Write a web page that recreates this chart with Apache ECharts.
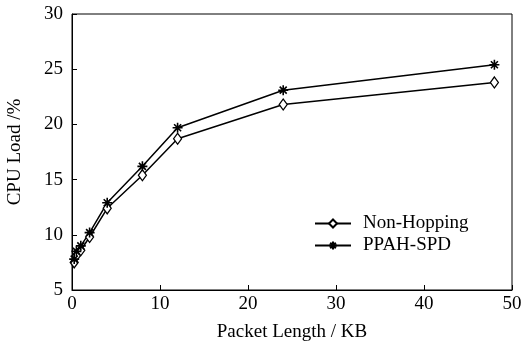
<!DOCTYPE html>
<html>
<head>
<meta charset="utf-8">
<script src="https://cdn.jsdelivr.net/npm/echarts@6/dist/echarts.min.js"></script>
<style>
  html, body { margin: 0; padding: 0; background: #fff; }
</style>
</head>
<body>
<div id="main" style="width:522px;height:350px"></div>
<script>
// packet length (KB) and CPU load (%)
var packetLength = [0.25, 0.5, 1, 2, 4, 8, 12, 24, 48];
var nonHopping = [7.5, 8.1, 8.6, 9.8, 12.4, 15.4, 18.7, 21.8, 23.8];
var ppahSpd = [7.8, 8.5, 9.0, 10.2, 12.9, 16.2, 19.7, 23.1, 25.4];
var seriesNames = ['Non-Hopping', 'PPAH-SPD'];

function pairs(xs, ys) {
    return xs.map(function (x, i) { return [x, ys[i]]; });
}

var starPath = 'path://M0 5 L10 5 M5 0 L5 10 M1.5 1.5 L8.5 8.5 M8.5 1.5 L1.5 8.5';
var font = '"Liberation Serif", "DejaVu Serif", serif';

var chartView = echarts.init(document.getElementById('main'));
chartView.setOption({
    backgroundColor: '#fff',
    animation: false,
    textStyle: { fontFamily: font, color: '#000' },
    grid: {
        left: 72, right: 10, top: 14, bottom: 60,
        outerBoundsMode: 'none',
        show: true, borderColor: '#000', borderWidth: 1
    },
    legend: {
        orient: 'vertical',
        left: 309, top: 209,
        itemWidth: 36, itemHeight: 10, itemGap: 3,
        textStyle: { fontFamily: font, fontSize: 19, color: '#000', padding: [0, 0, 0, 7] },
        data: seriesNames
    },
    xAxis: {
        type: 'value',
        min: 0, max: 50, interval: 10,
        name: 'Packet Length / KB',
        nameLocation: 'middle',
        nameGap: 33,
        nameTextStyle: { fontFamily: font, fontSize: 19, color: '#000' },
        axisLine: { lineStyle: { color: '#000', width: 1 } },
        axisTick: { inside: true, length: 5, lineStyle: { color: '#000' } },
        axisLabel: { fontFamily: font, fontSize: 19, color: '#000', margin: 5 },
        splitLine: { show: false }
    },
    yAxis: {
        type: 'value',
        min: 5, max: 30, interval: 5,
        name: 'CPU Load /%',
        nameLocation: 'middle',
        nameGap: 47,
        nameTextStyle: { fontFamily: font, fontSize: 19, color: '#000' },
        axisLine: { show: true, lineStyle: { color: '#000', width: 1 } },
        axisTick: { show: true, inside: true, length: 5, lineStyle: { color: '#000' } },
        axisLabel: { fontFamily: font, fontSize: 19, color: '#000', margin: 9 },
        splitLine: { show: false }
    },
    series: [
        {
            name: seriesNames[0],
            type: 'line',
            data: pairs(packetLength, nonHopping),
            symbol: 'diamond',
            symbolSize: [8, 11],
            showAllSymbol: true,
            lineStyle: { color: '#000', width: 1.5 },
            itemStyle: { color: '#fff', borderColor: '#000', borderWidth: 1.3 }
        },
        {
            name: seriesNames[1],
            type: 'line',
            data: pairs(packetLength, ppahSpd),
            symbol: starPath,
            symbolSize: 10,
            showAllSymbol: true,
            lineStyle: { color: '#000', width: 1.5 },
            itemStyle: { color: '#000', borderColor: '#000', borderWidth: 1.6 }
        }
    ]
});
window.addEventListener('resize', function () {
    chartView.resize();
});
</script>
</body>
</html>
